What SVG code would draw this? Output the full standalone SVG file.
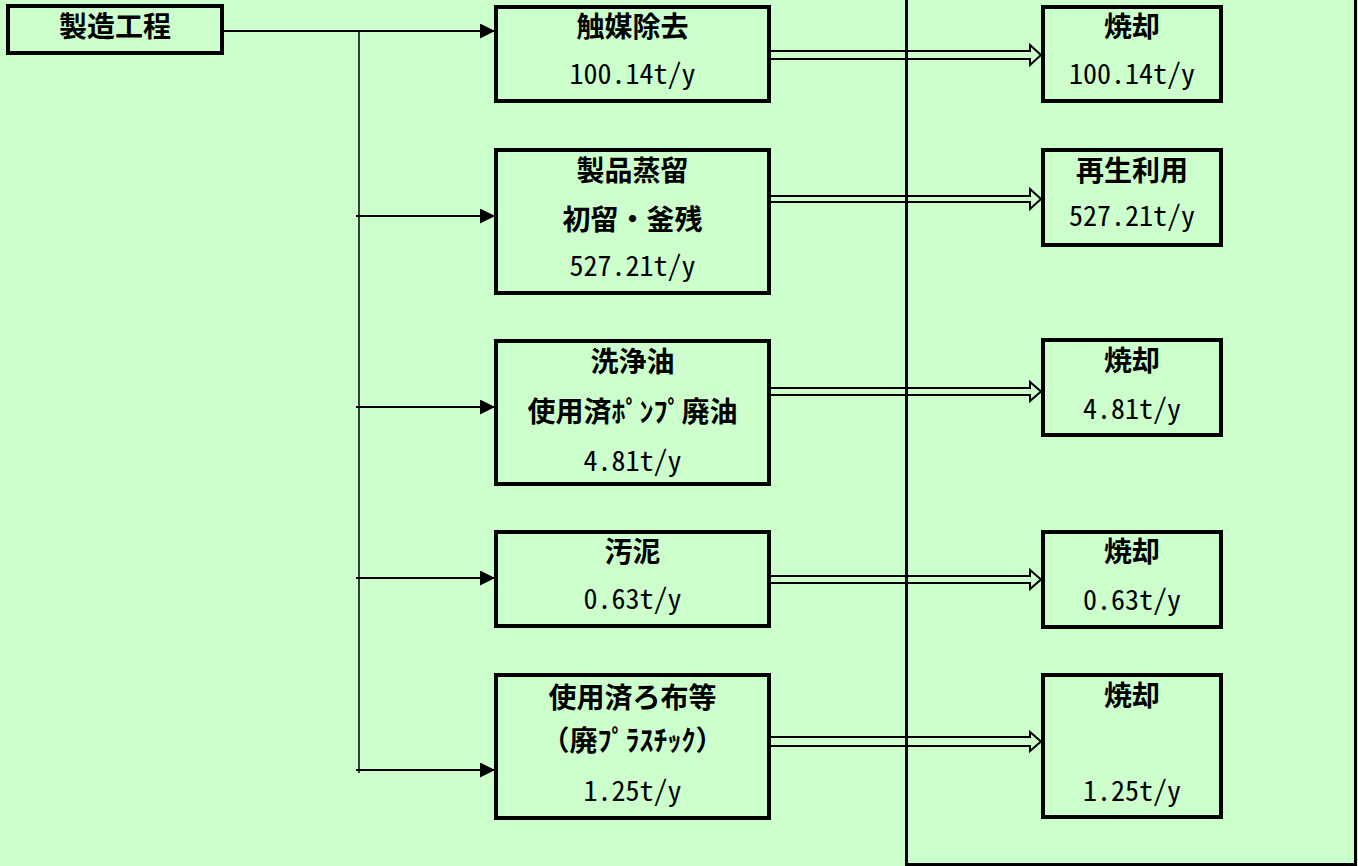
<svg xmlns="http://www.w3.org/2000/svg" width="1358" height="866" viewBox="0 0 1358 866">
<style>
.bx{fill:#CCFFCC;stroke:#000;stroke-width:4}
.t{font-family:'Noto Sans CJK JP','Noto Sans CJK SC',sans-serif;font-size:28px;font-weight:bold;text-anchor:middle;dominant-baseline:central;fill:#000}
.n{font-family:'Noto Sans Mono CJK JP','Noto Sans CJK JP',monospace;font-size:28px;font-weight:normal;text-anchor:middle;dominant-baseline:central;fill:#000}
.ln{stroke:#000;stroke-width:2;fill:none}
.dbl{fill:#CCFFCC;stroke:#000;stroke-width:2;stroke-linejoin:miter}
.frame{stroke:#000;stroke-width:3;fill:none}
</style>
<defs>
<marker id="ah" markerUnits="userSpaceOnUse" markerWidth="16" markerHeight="16" refX="15" refY="7.5" orient="auto">
<path d="M0,0 L15,7.5 L0,15 z" fill="#000"/>
</marker>
</defs>
<rect x="0" y="0" width="1358" height="866" fill="#CCFFCC"/>

<g id="connectors">
<line class="ln" x1="224" y1="31" x2="495" y2="31" marker-end="url(#ah)"/>
<line x1="359" y1="31" x2="359" y2="773" stroke="#000" stroke-width="1.5"/>
<line class="ln" x1="356" y1="216" x2="495" y2="216" marker-end="url(#ah)"/>
<line class="ln" x1="356" y1="407" x2="495" y2="407" marker-end="url(#ah)"/>
<line class="ln" x1="356" y1="578" x2="495" y2="578" marker-end="url(#ah)"/>
<line class="ln" x1="356" y1="770" x2="495" y2="770" marker-end="url(#ah)"/>
<polygon class="dbl" points="770,51 1030,51 1030,45 1041,55 1030,65 1030,59 770,59"/>
<polygon class="dbl" points="770,196 1030,196 1030,189 1041,199 1030,209 1030,202 770,202"/>
<polygon class="dbl" points="770,388 1030,388 1030,382 1041,391.5 1030,401 1030,395 770,395"/>
<polygon class="dbl" points="770,576 1030,576 1030,570 1041,579.5 1030,589 1030,583 770,583"/>
<polygon class="dbl" points="770,737 1030,737 1030,732 1041,741.5 1030,751 1030,746 770,746"/>
</g>

<g id="frame">
<line class="frame" x1="906.5" y1="0" x2="906.5" y2="864.5"/>
<line class="frame" x1="905" y1="864.5" x2="1357" y2="864.5"/>
<line class="frame" x1="1355.5" y1="0" x2="1355.5" y2="864.5"/>
</g>

<g id="n0">
<rect class="bx" x="8" y="6" width="214" height="47"/>
<text class="t" x="115" y="25">製造工程</text>
</g>

<g id="n1">
<rect class="bx" x="496" y="7" width="273" height="94"/>
<text class="t" x="632.5" y="25">触媒除去</text>
<text class="n" x="632.5" y="72">100.14t/y</text>
</g>

<g id="n2">
<rect class="bx" x="496" y="150" width="273" height="143"/>
<text class="t" x="632.5" y="169">製品蒸留</text>
<text class="t" x="632.5" y="217.5">初留・釜残</text>
<text class="n" x="632.5" y="263.5">527.21t/y</text>
</g>

<g id="n3">
<rect class="bx" x="496" y="341" width="273" height="143"/>
<text class="t" x="632.5" y="360">洗浄油</text>
<text class="t" x="632.5" y="409.5">使用済ﾎﾟﾝﾌﾟ廃油</text>
<text class="n" x="632.5" y="459">4.81t/y</text>
</g>

<g id="n4">
<rect class="bx" x="496" y="532" width="273" height="94"/>
<text class="t" x="632.5" y="550">汚泥</text>
<text class="n" x="632.5" y="597">0.63t/y</text>
</g>

<g id="n5">
<rect class="bx" x="496" y="675" width="273" height="143"/>
<text class="t" x="632.5" y="696">使用済ろ布等</text>
<text class="t" x="632.5" y="739">（廃ﾌﾟﾗｽﾁｯｸ）</text>
<text class="n" x="632.5" y="789">1.25t/y</text>
</g>

<g id="r1">
<rect class="bx" x="1043" y="7" width="178" height="94"/>
<text class="t" x="1132" y="25">焼却</text>
<text class="n" x="1132" y="72">100.14t/y</text>
</g>

<g id="r2">
<rect class="bx" x="1043" y="150" width="178" height="95"/>
<text class="t" x="1132" y="169">再生利用</text>
<text class="n" x="1132" y="213.5">527.21t/y</text>
</g>

<g id="r3">
<rect class="bx" x="1043" y="340" width="178" height="95"/>
<text class="t" x="1132" y="359">焼却</text>
<text class="n" x="1132" y="406.5">4.81t/y</text>
</g>

<g id="r4">
<rect class="bx" x="1043" y="532" width="178" height="95"/>
<text class="t" x="1132" y="550">焼却</text>
<text class="n" x="1132" y="597.5">0.63t/y</text>
</g>

<g id="r5">
<rect class="bx" x="1043" y="675" width="178" height="142"/>
<text class="t" x="1132" y="693.5">焼却</text>
<text class="n" x="1132" y="788.5">1.25t/y</text>
</g>
</svg>
